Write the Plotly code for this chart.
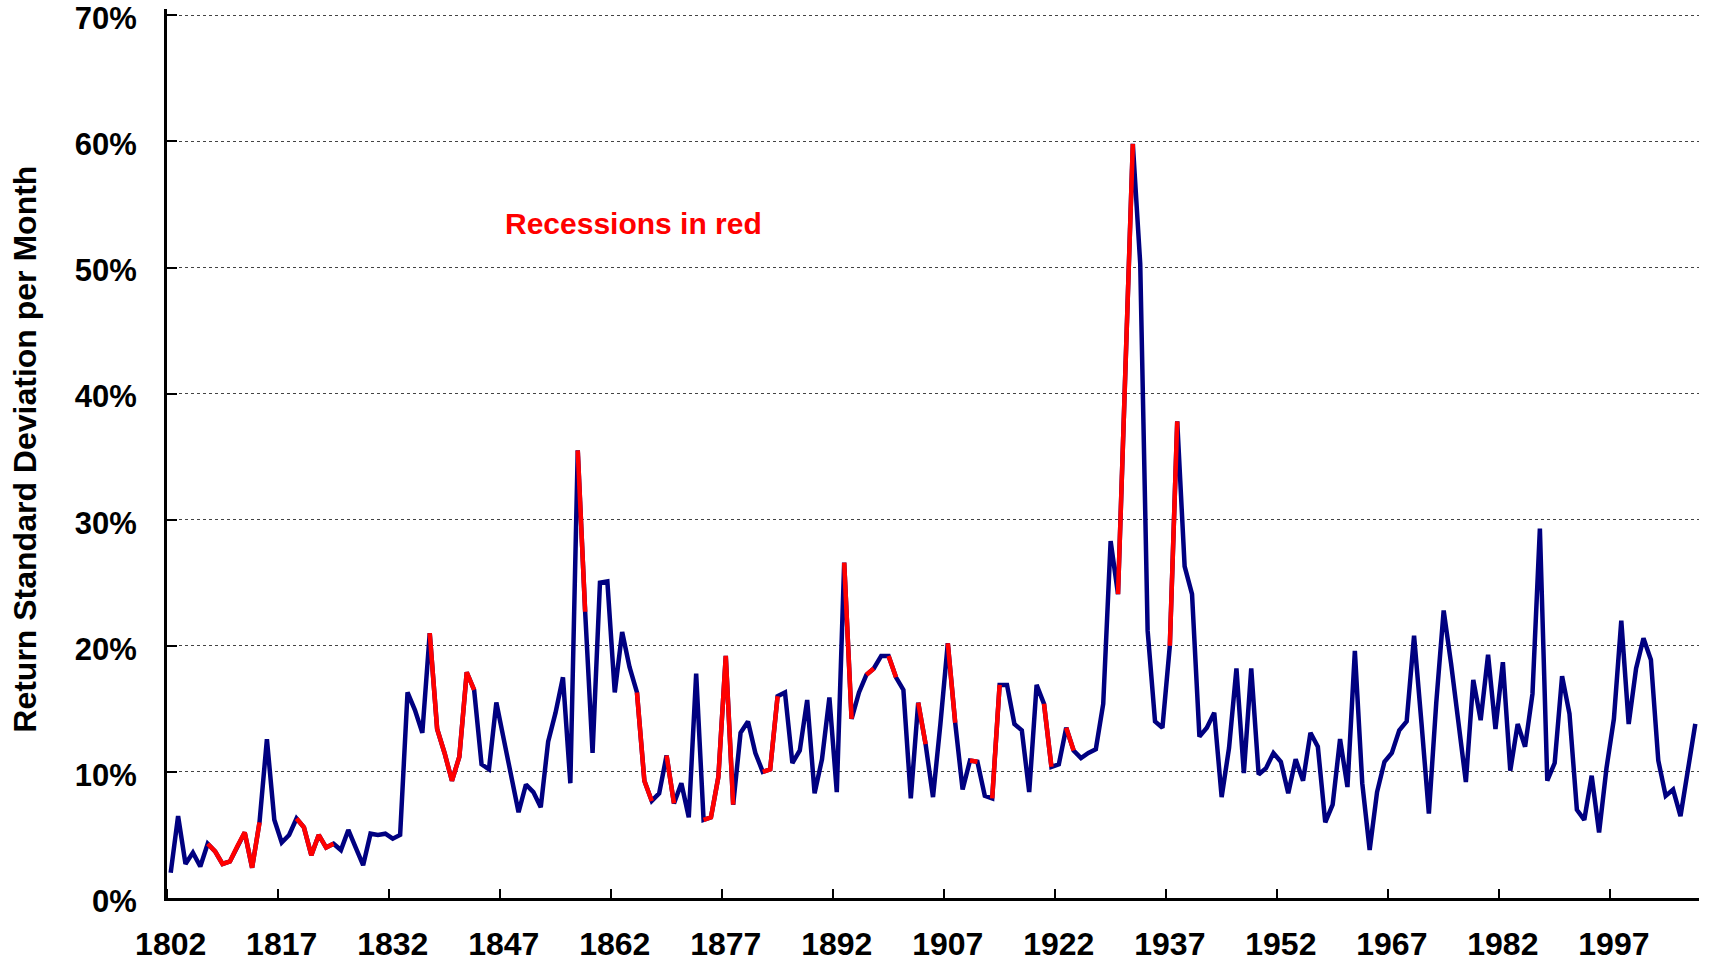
import plotly.graph_objects as go

# Annual return standard deviation (percent), one value per year 1802-2008
years = list(range(1802, 2009))
volatility = [
    2.0, 6.5, 2.7, 3.6, 2.5, 4.3, 3.7, 2.7, 2.9, 4.1,          # 1802-1811
    5.2, 2.4, 6.0, 12.6, 6.2, 4.4, 5.0, 6.3, 5.6, 3.4,         # 1812-1821
    5.0, 4.0, 4.3, 3.8, 5.4, 4.0, 2.6, 5.1, 5.0, 5.1,          # 1822-1831
    4.7, 5.0, 16.3, 14.9, 13.1, 21.0, 13.4, 11.5, 9.3, 11.2,   # 1832-1841
    17.9, 16.5, 10.6, 10.2, 15.5, 12.6, 9.9, 6.8, 9.0, 8.4,    # 1842-1851
    7.2, 12.4, 14.7, 17.5, 9.1, 35.5, 22.7, 11.5, 25.0, 25.1,  # 1852-1861
    16.3, 21.1, 18.3, 16.3, 9.3, 7.7, 8.3, 11.3, 7.5, 9.1,     # 1862-1871
    6.4, 17.8, 6.2, 6.4, 9.6, 19.2, 7.4, 13.1, 14.0, 11.5,     # 1872-1881
    10.0, 10.2, 16.0, 16.3, 10.7, 11.7, 15.7, 8.3, 11.0, 15.9, # 1882-1891
    8.4, 26.6, 14.2, 16.3, 17.7, 18.2, 19.2, 19.2, 17.5, 16.5, # 1892-1901
    7.9, 15.5, 12.2, 8.0, 13.8, 20.2, 13.9, 8.6, 10.9, 10.8,   # 1902-1911
    8.1, 7.9, 16.9, 16.9, 13.8, 13.3, 8.4, 16.9, 15.4, 10.4,   # 1912-1921
    10.6, 13.5, 11.7, 11.1, 11.5, 11.8, 15.4, 28.3, 24.1, 42.0, # 1922-1931
    59.8, 50.3, 21.2, 14.0, 13.5, 20.0, 37.8, 26.3, 24.1, 12.8, # 1932-1941
    13.5, 14.7, 8.0, 11.9, 18.2, 9.9, 18.2, 9.8, 10.3, 11.5,   # 1942-1951
    10.8, 8.3, 11.0, 9.3, 13.1, 12.0, 6.0, 7.4, 12.6, 8.8,     # 1952-1961
    19.6, 9.1, 3.8, 8.4, 10.8, 11.5, 13.3, 14.0, 20.8, 13.9,   # 1962-1971
    6.7, 15.5, 22.8, 18.6, 14.1, 9.2, 17.3, 14.1, 19.3, 13.4,  # 1972-1981
    18.7, 10.1, 13.8, 12.0, 16.2, 29.3, 9.3, 10.7, 17.6, 14.6, # 1982-1991
    7.0, 6.2, 9.7, 5.2, 10.3, 14.2, 22.0, 13.8, 18.2, 20.6,    # 1992-2001
    18.9, 10.9, 8.1, 8.6, 6.5, 10.1, 13.8,                     # 2002-2008
]

# recession stretches drawn in red (first year, last year)
recessions = [
    (1807, 1814), (1819, 1824), (1837, 1843), (1857, 1858), (1865, 1867),
    (1869, 1870), (1874, 1878), (1882, 1884), (1893, 1894), (1896, 1897),
    (1899, 1900), (1903, 1904), (1907, 1908), (1910, 1911), (1913, 1914),
    (1920, 1921), (1923, 1924), (1930, 1932), (1937, 1938),
]

x_tick_years = list(range(1802, 2009, 15))
y_ticks = [0, 0.1, 0.2, 0.3, 0.4, 0.5, 0.6, 0.7]

vol = [v / 100 for v in volatility]

# red overlay: each recession as its own run, separated by gaps
red_x, red_y = [], []
for start, end in recessions:
    for yr in range(start, end + 1):
        red_x.append(yr)
        red_y.append(vol[years.index(yr)])
    red_x.append(None)
    red_y.append(None)

font_family = 'Liberation Sans, Arial, sans-serif'

fig = go.Figure()
fig.add_trace(go.Scatter(x=years, y=vol, mode='lines',
                         line=dict(color='#000080', width=4.5), showlegend=False))
fig.add_trace(go.Scatter(x=red_x, y=red_y, mode='lines',
                         line=dict(color='#FF0000', width=4.5), showlegend=False))

fig.add_annotation(x=1864.5, y=0.535, text='Recessions in red', showarrow=False,
                   font=dict(family=font_family, size=30, color='#FF0000', weight='bold'))
fig.add_annotation(xref='paper', yref='paper', x=-0.0929, y=0.505,
                   text='Return Standard Deviation per Month', textangle=-90,
                   showarrow=False, xanchor='center', yanchor='middle',
                   font=dict(family=font_family, size=32, color='black', weight='bold'))

fig.update_layout(
    width=1709,
    height=964,
    margin=dict(l=167, r=10, t=9, b=66),
    plot_bgcolor='white',
    paper_bgcolor='white',
    showlegend=False,
    xaxis=dict(
        range=[1801.5, 2008.5],
        automargin=False,
        tickmode='array',
        tickvals=x_tick_years,
        ticktext=[str(y) for y in x_tick_years],
        ticks='',
        minor=dict(tick0=1801.5, dtick=15, ticks='inside', ticklen=9,
                   tickwidth=2, tickcolor='black', showgrid=False),
        showgrid=False,
        zeroline=False,
        showline=True,
        linecolor='black',
        linewidth=3,
        ticklabelstandoff=16,
        ticklabeloverflow='allow',
        tickfont=dict(family=font_family, size=32, color='black', weight='bold'),
    ),
    yaxis=dict(
        range=[0, 0.705],
        automargin=False,
        tickmode='array',
        tickvals=y_ticks,
        tickformat='.0%',
        ticks='inside',
        ticklen=10,
        tickwidth=2,
        tickcolor='black',
        showgrid=True,
        gridcolor='#444444',
        griddash='dot',
        gridwidth=1,
        zeroline=False,
        showline=True,
        linecolor='black',
        linewidth=3,
        ticklabelstandoff=21,
        ticklabelshift=3,
        ticklabeloverflow='allow',
        tickfont=dict(family=font_family, size=31, color='black', weight='bold'),
    ),
)

# drop the default page margin so the figure fills the window exactly
fig.write_html('out.html', config={'displayModeBar': False},
               post_script="document.body.style.margin = '0';")
